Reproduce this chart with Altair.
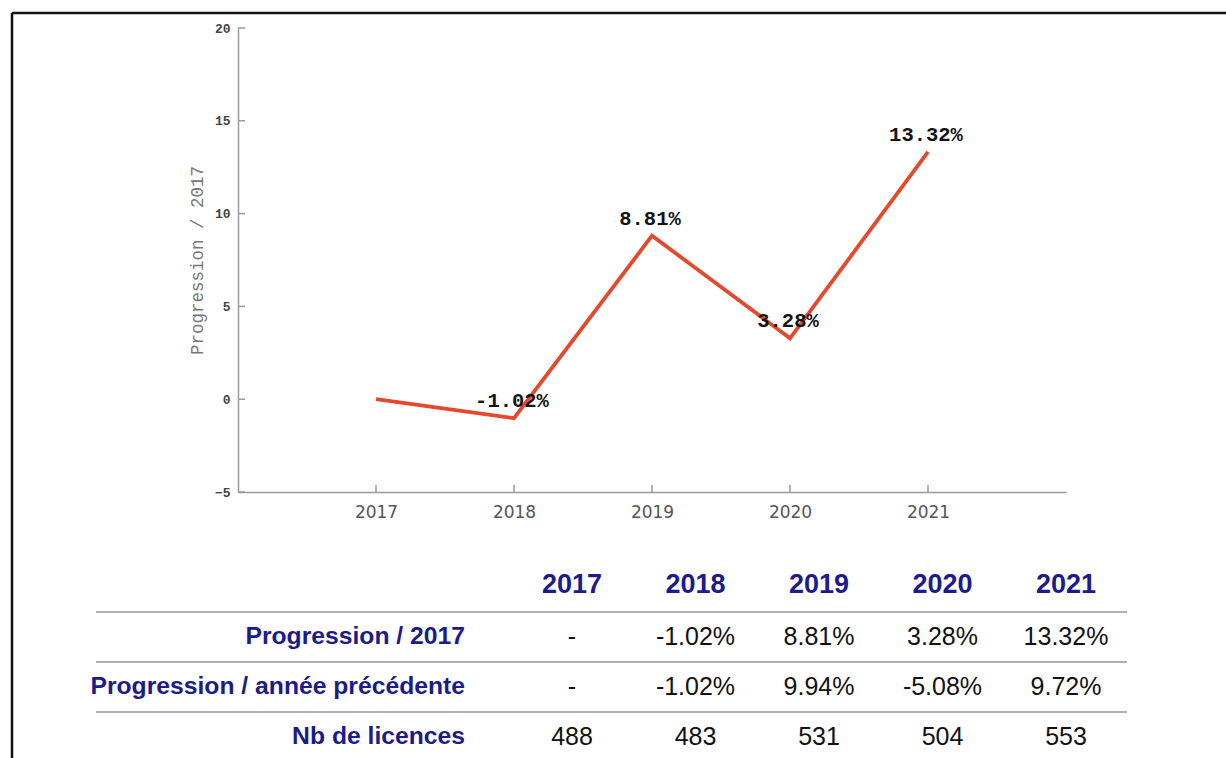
import altair as alt
import pandas as pd

# ---- data ----
years = [2017, 2018, 2019, 2020, 2021]
progression_2017 = [0.0, -1.02, 8.81, 3.28, 13.32]
progression_prev = [None, -1.02, 9.94, -5.08, 9.72]
licences = [488, 483, 531, 504, 553]
y_ticks = [-5, 0, 5, 10, 15, 20]
row_labels = ["Progression / 2017", "Progression / année précédente", "Nb de licences"]

NAVY = "#1b1b8c"
RED = "#e4492c"
AXIS_GREY = "#9a9a9a"

def pct(v):
    return "-" if v is None else f"{v:.2f}%"

# ---- main line chart ----
line_df = pd.DataFrame({"year": years, "value": progression_2017})
lab_df = pd.DataFrame({
    "year": years[1:],
    "value": progression_2017[1:],
    "label": [pct(v) for v in progression_2017[1:]],
})
xtick_df = pd.DataFrame({"year": years})
ytick_df = pd.DataFrame({"value": y_ticks})

x_scale = alt.Scale(domain=[2016, 2022], nice=False, zero=False)
y_scale = alt.Scale(domain=[-5, 20], nice=False, zero=False)
x_axis = alt.Axis(values=years, format="d", title=None, grid=False, ticks=False,
                  domainColor=AXIS_GREY, domainWidth=1.5,
                  labelFont="DejaVu Sans", labelFontSize=17, labelColor="#555555",
                  labelPadding=12)
y_axis = alt.Axis(values=y_ticks, format="d", title="Progression / 2017", grid=False,
                  ticks=False, domainColor=AXIS_GREY, domainWidth=1.5,
                  labelFont="Liberation Mono", labelFontSize=13, labelFontWeight="bold",
                  labelColor="#444444", labelPadding=8,
                  titleFont="Liberation Mono", titleFontSize=17.5, titleFontWeight="normal",
                  titleColor="#777777", titlePadding=8)

X = alt.X("year:Q", scale=x_scale, axis=x_axis)
Y = alt.Y("value:Q", scale=y_scale, axis=y_axis)

line = alt.Chart(line_df).mark_line(color=RED, strokeWidth=3.8).encode(x=X, y=Y)
labels = alt.Chart(lab_df).mark_text(
    font="Liberation Mono", fontSize=20.5, fontWeight="bold", color="#111111",
    dy=-17, dx=-2, baseline="middle", align="center"
).encode(x=X, y=Y, text="label:N")
xticks = alt.Chart(xtick_df).mark_rule(color=AXIS_GREY, strokeWidth=1.5).encode(
    x=X, y=alt.value(457), y2=alt.value(464))
yticks = alt.Chart(ytick_df).mark_rule(color=AXIS_GREY, strokeWidth=1.5).encode(
    y=Y, x=alt.value(0), x2=alt.value(7))

main = alt.layer(line, xticks, yticks, labels)

# ---- table below ----
header_df = pd.DataFrame({"year": years, "row": 0, "text": [str(y) for y in years]})
rows = []
for i, y in enumerate(years):
    rows.append({"year": y, "row": 1, "text": pct(None if i == 0 else progression_2017[i])})
    rows.append({"year": y, "row": 2, "text": pct(progression_prev[i])})
    rows.append({"year": y, "row": 3, "text": str(licences[i])})
cells_df = pd.DataFrame(rows)
rowlab_df = pd.DataFrame({"row": [1, 2, 3], "text": row_labels})
sep_df = pd.DataFrame({"pos": [i + 0.5 for i in range(3)]})

tx = alt.Scale(domain=[2017, 2021], range=[334, 828], nice=False, zero=False)
ty = alt.Scale(domain=[0, 3], range=[557, 707], nice=False, zero=False)

header = alt.Chart(header_df).mark_text(
    font="Liberation Sans", fontSize=27, fontWeight="bold", color=NAVY,
    baseline="middle", align="center"
).encode(x=alt.X("year:Q", scale=tx, axis=None),
         y=alt.Y("row:Q", scale=ty, axis=None), text="text:N")
cells = alt.Chart(cells_df).mark_text(
    font="Liberation Sans", fontSize=25, color="#111111",
    baseline="middle", align="center", dy=1.5
).encode(x=alt.X("year:Q", scale=tx, axis=None),
         y=alt.Y("row:Q", scale=ty, axis=None), text="text:N")
rowlabs = alt.Chart(rowlab_df).mark_text(
    font="Liberation Sans", fontSize=24.7, fontWeight="bold", color=NAVY,
    baseline="middle", align="right", dy=1.5
).encode(x=alt.value(227), y=alt.Y("row:Q", scale=ty, axis=None), text="text:N")
seps = alt.Chart(sep_df).mark_rule(color="#b0b0b0", strokeWidth=2, yOffset=2).encode(
    y=alt.Y("pos:Q", scale=ty, axis=None), x=alt.value(-142), x2=alt.value(889))

table = alt.layer(seps, header, cells, rowlabs)

# ---- frame (top and left border) ----
frame_df = pd.DataFrame({"k": [0]})
top_border = alt.Chart(frame_df).mark_rule(color="#111111", strokeWidth=2.5).encode(
    x=alt.value(-226), x2=alt.value(988), y=alt.value(-15))
left_border = alt.Chart(frame_df).mark_rule(color="#111111", strokeWidth=2.5).encode(
    x=alt.value(-226), y=alt.value(-15), y2=alt.value(730))

chart = alt.layer(main, table, top_border, left_border).resolve_scale(
    x="independent", y="independent"
).properties(
    width=828, height=464,
    autosize=alt.AutoSizeParams(type="none"),
    padding={"left": 238, "top": 28, "right": 160, "bottom": 266},
    background="white",
).configure_view(stroke=None)

chart.save("out.html", embed_options={"renderer": "svg", "actions": False})
